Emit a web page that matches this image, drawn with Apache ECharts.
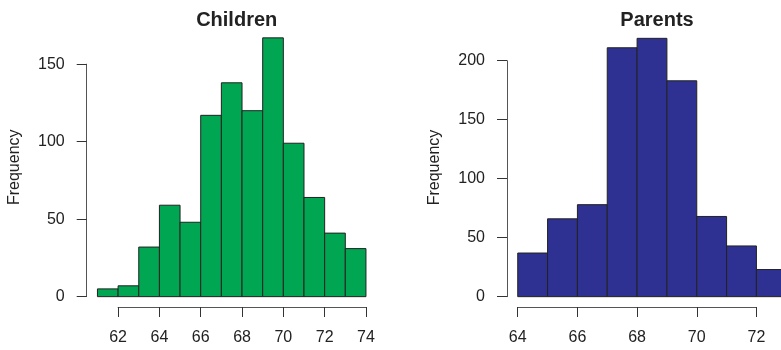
<!DOCTYPE html>
<html>
<head>
<meta charset="utf-8">
<script src="https://cdn.jsdelivr.net/npm/echarts@6/dist/echarts.min.js"></script>
<style>html,body{margin:0;padding:0;background:#fff}#c{width:781px;height:350px}</style>
</head>
<body>
<div id="c"></div>
<script>
// ---- data ----
const childBreaks = [61, 62, 63, 64, 65, 66, 67, 68, 69, 70, 71, 72, 73, 74];
const childCounts = [5, 7, 32, 59, 48, 117, 138, 120, 167, 99, 64, 41, 31];
const childXTicks = [62, 64, 66, 68, 70, 72, 74];
const childYTicks = [0, 50, 100, 150];

const parentBreaks = [64, 65, 66, 67, 68, 69, 70, 71, 72, 73];
const parentCounts = [37, 66, 78, 211, 219, 183, 68, 43, 23];
const parentXTicks = [64, 66, 68, 70, 72];
const parentYTicks = [0, 50, 100, 150, 200];

const titles = ['Children', 'Parents'];
const yLabel = 'Frequency';

// ---- layout / style ----
const FONT = '"Liberation Sans", Arial, Helvetica, sans-serif';
const TXT = '#222';
const AX = '#555';
const panels = [
  { title: titles[0], breaks: childBreaks, counts: childCounts, xt: childXTicks, yt: childYTicks,
    color: '#00A651', left: 86.7, top: 27.5, width: 290, height: 279.5 },
  { title: titles[1], breaks: parentBreaks, counts: parentCounts, xt: parentXTicks, yt: parentYTicks,
    color: '#2E3192', left: 507, top: 28, width: 290, height: 279 }
];

const grid = [], xAxis = [], yAxis = [], series = [], title = [];
panels.forEach((p) => {
  const b0 = p.breaks[0], bn = p.breaks[p.breaks.length - 1];
  const xmin = b0 - 0.04 * (bn - b0), xmax = bn + 0.04 * (bn - b0);
  const cmax = Math.max(...p.counts);
  const ymin = -0.04 * cmax, ymax = cmax * 1.04;
  const px = v => p.left + (v - xmin) / (xmax - xmin) * p.width;
  const py = v => p.top + (ymax - v) / (ymax - ymin) * p.height;
  const bottom = p.top + p.height;

  // main plot grid
  const gi = grid.length;
  grid.push({ left: p.left, top: p.top, width: p.width, height: p.height, containLabel: false, outerBoundsMode: 'none' });
  xAxis.push({ type: 'value', gridIndex: gi, min: xmin, max: xmax, show: false });
  yAxis.push({ type: 'value', gridIndex: gi, min: ymin, max: ymax,
    axisLine: { show: false }, axisTick: { show: false }, axisLabel: { show: false }, splitLine: { show: false },
    name: yLabel, nameLocation: 'middle', nameGap: 64, nameRotate: 90,
    nameTextStyle: { fontFamily: FONT, fontSize: 16, color: TXT } });
  const data = p.counts.map((c, i) => [p.breaks[i], p.breaks[i + 1], c]);
  series.push({
    type: 'custom', xAxisIndex: gi, yAxisIndex: gi, data: data, clip: false,
    encode: { x: [0, 1], y: 2 },
    renderItem: (params, api) => {
      const a = api.coord([api.value(0), 0]);
      const b = api.coord([api.value(1), api.value(2)]);
      return { type: 'rect', shape: { x: a[0], y: b[1], width: b[0] - a[0], height: a[1] - b[1] },
        style: { fill: p.color, stroke: '#222', lineWidth: 1 } };
    }
  });

  // x axis display grid (spans first..last tick, like R)
  const xi = grid.length;
  const xl = px(p.xt[0]), xr = px(p.xt[p.xt.length - 1]);
  grid.push({ left: xl, top: bottom - 10, width: xr - xl, height: 10, outerBoundsMode: 'none' });
  xAxis.push({ type: 'value', gridIndex: xi, position: 'bottom', min: p.xt[0], max: p.xt[p.xt.length - 1],
    interval: 2,
    axisLine: { show: true, lineStyle: { color: AX, width: 1 } },
    axisTick: { show: true, inside: false, length: 10, lineStyle: { color: '#333', width: 1 } },
    axisLabel: { show: true, margin: 23, fontFamily: FONT, fontSize: 16, color: TXT, showMinLabel: true, showMaxLabel: true },
    splitLine: { show: false } });
  yAxis.push({ type: 'value', gridIndex: xi, show: false });

  // y axis display grid
  const yi = grid.length;
  const yt = py(p.yt[p.yt.length - 1]), yb = py(p.yt[0]);
  grid.push({ left: p.left, top: yt, width: 10, height: yb - yt, outerBoundsMode: 'none' });
  xAxis.push({ type: 'value', gridIndex: yi, show: false });
  yAxis.push({ type: 'value', gridIndex: yi, position: 'left', min: p.yt[0], max: p.yt[p.yt.length - 1],
    interval: 50,
    axisLine: { show: true, lineStyle: { color: AX, width: 1 } },
    axisTick: { show: true, inside: false, length: 10, lineStyle: { color: '#333', width: 1 } },
    axisLabel: { show: true, margin: 22, fontFamily: FONT, fontSize: 16, color: TXT, showMinLabel: true, showMaxLabel: true },
    splitLine: { show: false } });

  title.push({ text: p.title, left: p.left + p.width / 2, top: 5, textAlign: 'center',
    textStyle: { fontFamily: FONT, fontSize: 20, fontWeight: 'bold', color: TXT } });
});

const chart = echarts.init(document.getElementById('c'), null, { renderer: 'canvas' });
chart.setOption({ animation: false, backgroundColor: '#fff', title, grid, xAxis, yAxis, series });
</script>
</body>
</html>
